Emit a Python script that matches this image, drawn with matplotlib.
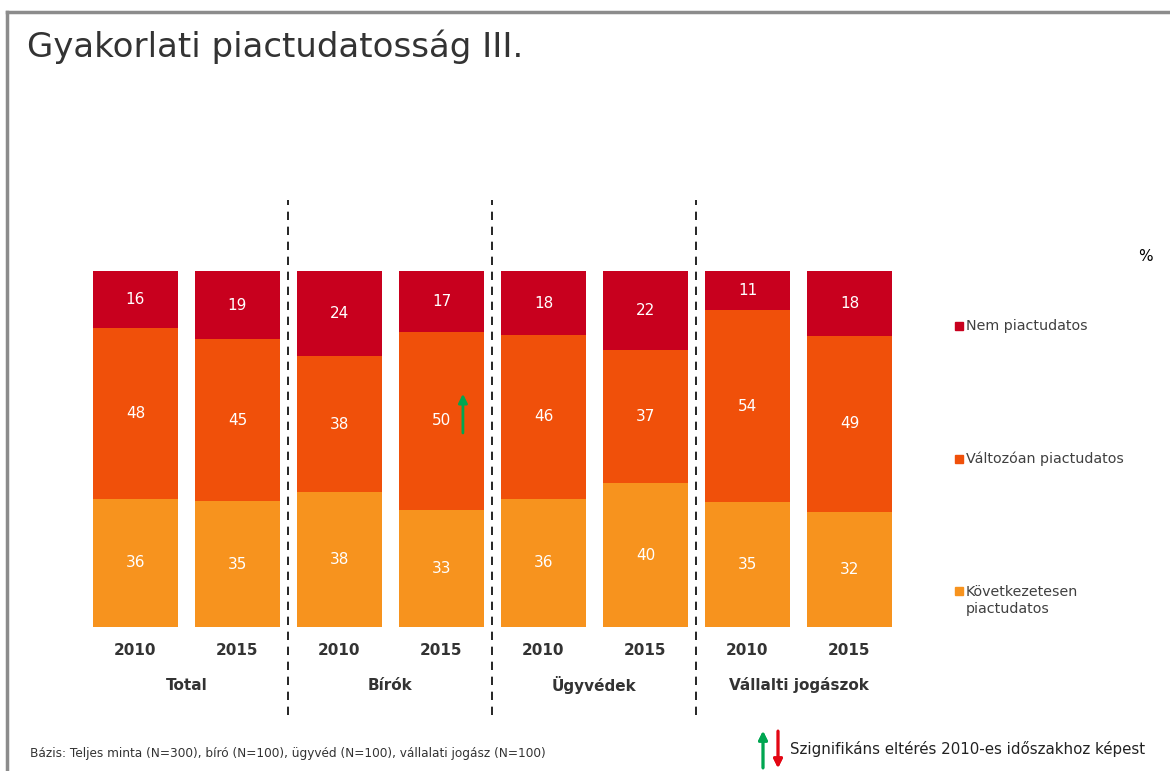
import numpy as np
import matplotlib.pyplot as plt
from matplotlib.lines import Line2D

# ------------------ adatok ------------------
evek = ['2010', '2015', '2010', '2015', '2010', '2015', '2010', '2015']
csoportok = ['Total', 'Bírók', 'Ügyvédek', 'Vállalti jogászok']
kovetkezetesen = [36, 35, 38, 33, 36, 40, 35, 32]
valtozoan = [48, 45, 38, 50, 46, 37, 54, 49]
nem = [16, 19, 24, 17, 18, 22, 11, 18]
szignifikans_fel = [3]  # Bírók 2015

sorozatok = [
    ('Következetesen\npiactudatos', kovetkezetesen, '#F7931E'),
    ('Változóan piactudatos', valtozoan, '#F0500A'),
    ('Nem piactudatos', nem, '#C8001E'),
]

W, H = 1170, 771
fig = plt.figure(figsize=(W / 100, H / 100), dpi=100)
plt.rcParams['font.family'] = 'DejaVu Sans'

# keret
fig.add_artist(Line2D([7 / W, 7 / W], [0, 1 - 12 / H], color='#8c8c8c', lw=2.5))
fig.add_artist(Line2D([7 / W, 1], [1 - 12 / H, 1 - 12 / H], color='#8c8c8c', lw=2.5))

fig.text(27 / W, 1 - 57 / H, 'Gyakorlati piactudatosság III.', fontsize=24.5,
         color='#333333', ha='left', va='baseline')

ax = fig.add_axes([84.5 / W, (H - 627) / H, 816 / W, 356 / H])
x = np.arange(len(evek))
osszeg = np.array(kovetkezetesen) + np.array(valtozoan) + np.array(nem)
also = np.zeros(len(evek))
for nev, ertek, szin in sorozatok:
    arany = np.array(ertek) / osszeg * 100
    ax.bar(x, arany, bottom=also, width=0.833, color=szin, edgecolor='none')
    for xi, a, b, v in zip(x, arany, also, ertek):
        ax.text(xi, b + a / 2, str(v), ha='center', va='center', color='white', fontsize=11)
    also = also + arany

ax.set_xlim(-0.5, 7.5)
ax.set_ylim(0, 100)
ax.axis('off')

for xi, ev in zip(x, evek):
    ax.text(xi, -6.5, ev, ha='center', va='center', fontsize=11, fontweight='bold',
            color='#333333', clip_on=False)
for i, cs in enumerate(csoportok):
    ax.text(2 * i + 0.5, -16.3, cs, ha='center', va='center', fontsize=11,
            fontweight='bold', color='#333333', clip_on=False)

for xd in [1.5, 3.5, 5.5]:
    ax.axvline(xd, ymin=-0.247, ymax=1.199, color='black', lw=1.2,
               linestyle=(0, (5, 4)), clip_on=False)

nyil = dict(arrowstyle='-|>', lw=2.0, mutation_scale=13, shrinkA=0, shrinkB=0)
for i in szignifikans_fel:
    ax.annotate('', xy=(i + 0.21, 65.5), xytext=(i + 0.21, 54.5),
                arrowprops=dict(nyil, color='#00A651'))

# jelmagyarazat
leg_y = [591, 459, 326]
for (nev, ertek, szin), py in zip(sorozatok, leg_y):
    fig.patches.append(plt.Rectangle((955 / W, 1 - (py + 4) / H), 8 / W, 8 / H,
                                     transform=fig.transFigure, color=szin))
    if '\n' in nev:
        fig.text(966 / W, 1 - (py - 6) / H, nev, fontsize=10.3, color='#404040',
                 ha='left', va='top', linespacing=1.25)
    else:
        fig.text(966 / W, 1 - py / H, nev, fontsize=10.3, color='#404040',
                 ha='left', va='center')
fig.text(1145 / W, 1 - 257 / H, '%', fontsize=11, color='black', ha='center', va='center')

fig.text(30 / W, 1 - 753 / H,
         'Bázis: Teljes minta (N=300), bíró (N=100), ügyvéd (N=100), vállalati jogász (N=100)',
         fontsize=8.7, color='#333333', ha='left', va='center')

fig.add_artist(plt.annotate('', xy=(763 / W, 1 - 731 / H), xytext=(763 / W, 1 - 768 / H),
                            xycoords='figure fraction', textcoords='figure fraction',
                            arrowprops=dict(nyil, color='#00A651')))
fig.add_artist(plt.annotate('', xy=(778 / W, 1 - 768 / H), xytext=(778 / W, 1 - 731 / H),
                            xycoords='figure fraction', textcoords='figure fraction',
                            arrowprops=dict(nyil, color='#E30613')))
fig.text(790 / W, 1 - 749 / H, 'Szignifikáns eltérés 2010-es időszakhoz képest',
         fontsize=10.8, color='#222222', ha='left', va='center')

fig.savefig('out.png', dpi=100)
